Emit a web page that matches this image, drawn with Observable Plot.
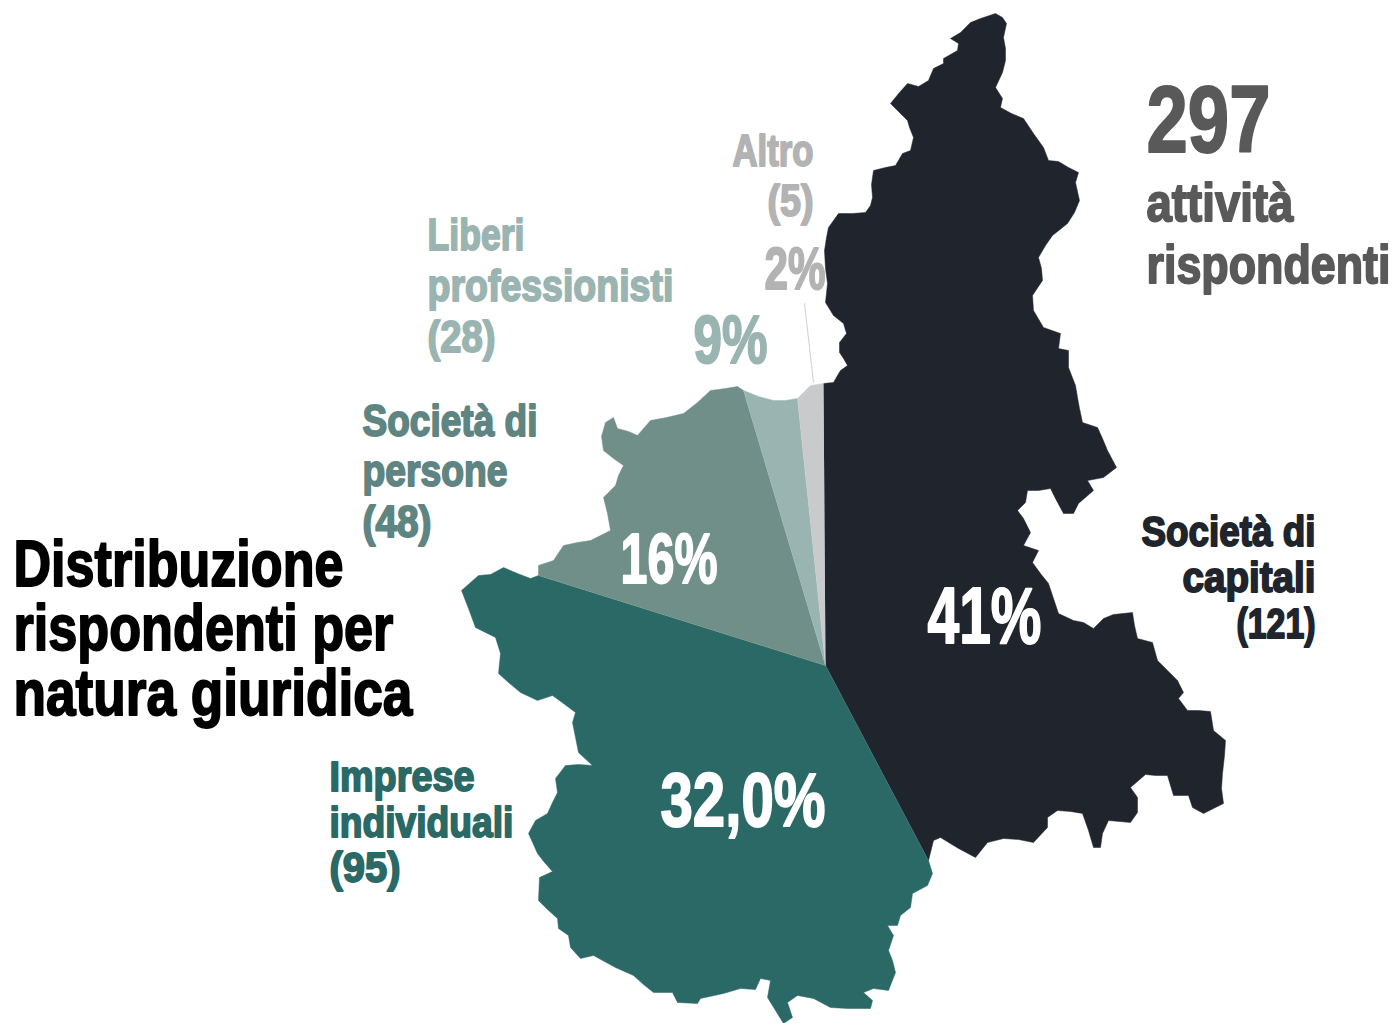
<!DOCTYPE html>
<html>
<head>
<meta charset="utf-8">
<title>Distribuzione rispondenti per natura giuridica</title>
<script src="https://cdn.jsdelivr.net/npm/d3@7"></script>
<script src="https://cdn.jsdelivr.net/npm/@observablehq/plot@0.6"></script>
<style>html,body{margin:0;padding:0;background:#fff}svg{display:block}</style>
</head>
<body>
<div id="chart"></div>
<script>
// Values as printed on the chart
const categories = ["Società di capitali","Imprese individuali","Società di persone","Liberi professionisti","Altro"];
const counts = [121,95,48,28,5];
const percents = ["41%","32,0%","16%","9%","2%"];
const total = 297;
const sectorColors = ["#20242c","#2a6966","#6f8f88","#9ab5b1","#c9cacc"];

// Pie apex and the traced borders of the region belonging to each slice (map units)
const apex = [825,665];
const borderCapitali = [[823,383],[833,382],[837,375],[840,370],[847,365],[843,358],[839,352],[839,342],[846,333],[843,323],[833,315],[825,302],[827,283],[825,268],[824,250],[826,237],[828,227],[838,213],[852,213],[865,212],[870,205],[872,197],[871,184],[873,170],[885,167],[895,165],[902,153],[910,150],[913,137],[909,127],[907,120],[898,111],[890,103],[899,92],[907,83],[918,86],[928,80],[933,68],[943,63],[943,58],[957,50],[958,43],[950,38],[960,32],[970,22],[980,18],[995,13],[1002,17],[1006,23],[1003,37],[1005,48],[1005,60],[1002,72],[995,87],[1002,98],[1000,107],[1011,113],[1023,118],[1033,133],[1043,147],[1048,160],[1058,161],[1068,167],[1078,172],[1075,182],[1079,200],[1074,212],[1067,223],[1052,235],[1045,245],[1038,257],[1041,268],[1042,280],[1032,295],[1033,310],[1043,327],[1060,333],[1058,348],[1068,350],[1068,367],[1075,385],[1077,397],[1079,408],[1082,422],[1097,427],[1102,438],[1107,450],[1116,467],[1103,477],[1087,480],[1093,490],[1078,503],[1073,513],[1063,513],[1056,500],[1050,488],[1038,490],[1027,490],[1025,502],[1017,510],[1023,518],[1030,532],[1023,545],[1038,550],[1032,562],[1040,573],[1048,583],[1053,598],[1058,613],[1073,620],[1083,622],[1093,628],[1103,618],[1113,614],[1132,612],[1134,625],[1137,638],[1152,642],[1157,660],[1167,670],[1177,680],[1183,692],[1178,698],[1187,710],[1198,710],[1210,711],[1213,730],[1225,740],[1224,755],[1222,773],[1221,788],[1223,803],[1203,813],[1192,807],[1188,795],[1173,795],[1167,775],[1155,775],[1145,774],[1130,787],[1137,797],[1137,812],[1130,822],[1108,820],[1102,833],[1100,847],[1093,847],[1088,830],[1082,813],[1070,811],[1057,810],[1047,817],[1047,827],[1033,842],[1018,839],[1003,838],[987,842],[975,857],[958,848],[940,837],[933,840],[928,860]];
const borderIndividuali = [[928,860],[932,873],[927,885],[912,893],[910,907],[900,915],[897,925],[887,925],[893,935],[888,950],[892,960],[895,972],[888,990],[873,988],[863,992],[872,1000],[870,1008],[847,1008],[830,1007],[813,998],[797,995],[787,1002],[792,1017],[783,1023],[775,1010],[767,997],[770,980],[760,978],[755,989],[740,988],[723,993],[700,998],[697,1003],[677,1002],[672,992],[653,992],[643,984],[633,975],[615,967],[593,955],[580,958],[570,947],[568,935],[558,928],[557,918],[547,909],[538,900],[539,877],[552,871],[544,862],[537,853],[528,833],[535,820],[547,813],[552,802],[557,792],[555,778],[565,765],[578,764],[592,765],[578,752],[575,737],[572,722],[575,712],[563,703],[552,695],[537,700],[520,692],[508,682],[498,673],[500,653],[495,637],[475,627],[468,608],[461,590],[478,575],[490,574],[503,567],[517,573],[530,578],[538,575]];
const borderPersone = [[538,575],[538,565],[553,560],[563,545],[577,542],[590,540],[610,530],[607,513],[603,497],[615,485],[618,475],[623,465],[613,458],[603,450],[601,436],[605,422],[613,417],[617,428],[628,431],[637,435],[650,420],[666,417],[683,413],[697,402],[710,390],[725,388],[737,386],[743,390]];
const borderLiberi = [[743,390],[758,396],[773,400],[785,400],[797,398]];
const borderAltro = [[797,398],[810,385],[823,383]];
const borders = [borderCapitali,borderIndividuali,borderPersone,borderLiberi,borderAltro];

// Leader from the 2% label to its slice
const leader = [[804,303],[813,382]];

const sectorPoints = borders.flatMap((border,i) =>
  [apex,...border].map(([x,y]) => ({x,y,sector:categories[i],color:sectorColors[i]})));

const F = "'Liberation Sans Narrow', 'Liberation Sans', sans-serif";
const textRows = [
  // title
  {t:"Distribuzione",x:13,y:585,w:330,s:64,c:"#000"},
  {t:"rispondenti per",x:13,y:649,w:380,s:64,c:"#000"},
  {t:"natura giuridica",x:13,y:714,w:399,s:64,c:"#000"},
  // total
  {t:String(total),x:1146,y:151,w:124,s:94,c:"#595959"},
  {t:"attività",x:1146,y:220,w:147,s:54,c:"#595959"},
  {t:"rispondenti",x:1146,y:282,w:244,s:54,c:"#595959"},
  // altro
  {t:"Altro",x:732,y:165,w:81,s:45,c:"#b3b3b3"},
  {t:`(${counts[4]})`,x:767,y:215,w:46,s:45,c:"#b3b3b3"},
  {t:percents[4],x:764,y:288,w:61,s:60,c:"#b3b3b3"},
  // liberi
  {t:"Liberi",x:427,y:249,w:97,s:45,c:"#9ab5b1"},
  {t:"professionisti",x:427,y:300,w:246,s:45,c:"#9ab5b1"},
  {t:`(${counts[3]})`,x:427,y:351,w:68,s:45,c:"#9ab5b1"},
  {t:percents[3],x:693,y:362,w:74,s:68,c:"#9ab5b1"},
  // persone
  {t:"Società di",x:362,y:435,w:175,s:45,c:"#5f8582"},
  {t:"persone",x:362,y:485,w:145,s:45,c:"#5f8582"},
  {t:`(${counts[2]})`,x:362,y:536,w:69,s:45,c:"#5f8582"},
  // capitali
  {t:"Società di",x:1141,y:545,w:174,s:43,c:"#20242c"},
  {t:"capitali",x:1182,y:591,w:133,s:43,c:"#20242c"},
  {t:`(${counts[0]})`,x:1236,y:637,w:79,s:43,c:"#20242c"},
  // individuali
  {t:"Imprese",x:329,y:790,w:145,s:43,c:"#2a6966"},
  {t:"individuali",x:329,y:836,w:184,s:43,c:"#2a6966"},
  {t:`(${counts[1]})`,x:329,y:881,w:71,s:43,c:"#2a6966"},
  // in-slice percentages
  {t:percents[2],x:620,y:582,w:97,s:70,c:"#ffffff"},
  {t:percents[0],x:927,y:642,w:114,s:80,c:"#ffffff"},
  {t:percents[1],x:660,y:825,w:165,s:76,c:"#ffffff"}
];

const plot = Plot.plot({
  width:1397, height:1023,
  margin:0,
  x:{domain:[0,1397],axis:null},
  y:{domain:[0,1023],reverse:true,axis:null},
  color:{type:"identity"},
  marks:[
    Plot.line(sectorPoints,{x:"x",y:"y",z:"sector",fill:"color",stroke:"color",strokeWidth:0.5}),
    Plot.line(leader,{x:d=>d[0],y:d=>d[1],stroke:"#cfcfcf",strokeWidth:1}),
    Plot.text(textRows,{x:"x",y:"y",text:"t",fill:"c",stroke:"c",strokeWidth:1.9,fontSize:"s",
      fontFamily:F,fontWeight:"bold",textAnchor:"start",lineAnchor:"bottom"})
  ]
});
document.getElementById("chart").appendChild(plot);

// Condense each row horizontally to the width it has on the chart
const texts = [...plot.querySelectorAll("g[aria-label='text'] text")];
texts.forEach((el,i) => {
  const k = textRows[i].w / el.getComputedTextLength();
  el.setAttribute("transform", `${el.getAttribute("transform")} scale(${k},1)`);
});
</script>
</body>
</html>
